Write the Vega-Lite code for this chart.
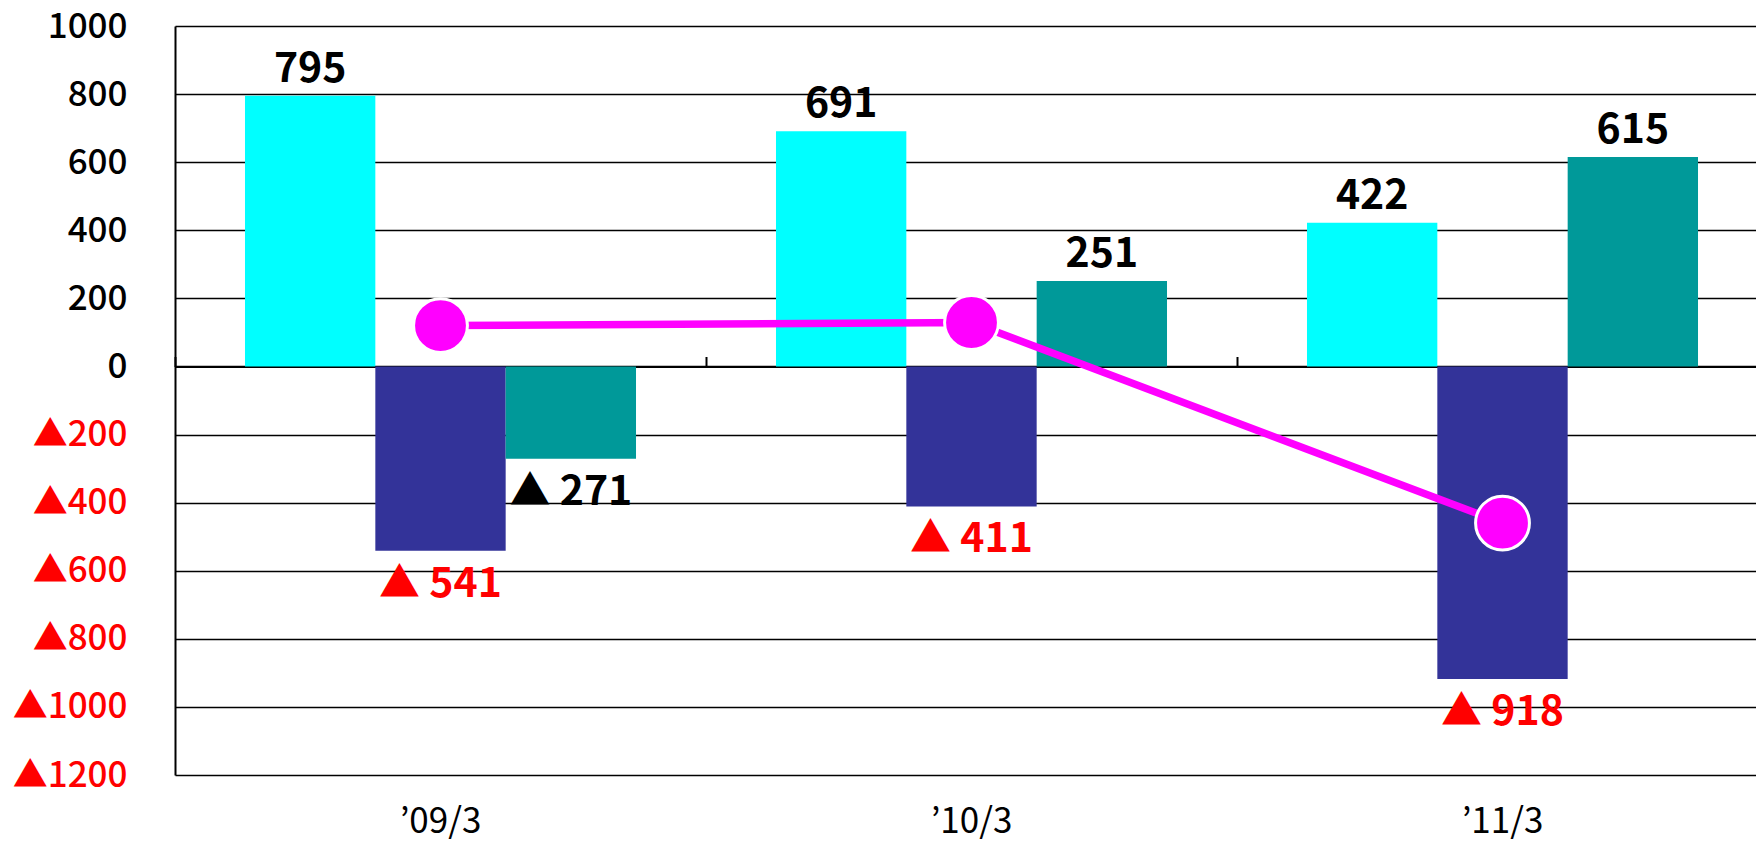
{
  "$schema": "https://vega.github.io/schema/vega-lite/v6.json",
  "width": 1581,
  "height": 749,
  "autosize": {"type": "none"},
  "padding": {"left": 175, "top": 26, "right": 0, "bottom": 67},
  "background": "white",
  "config": {"view": {"stroke": null}, "font": "Noto Sans CJK JP"},
  "data": {
    "values": [
      {"period": "’09/3", "series": "A", "value": 795, "label": "795"},
      {"period": "’09/3", "series": "B", "value": -541, "label": "▲ 541"},
      {"period": "’09/3", "series": "C", "value": -271, "label": "▲ 271"},
      {"period": "’10/3", "series": "A", "value": 691, "label": "691"},
      {"period": "’10/3", "series": "B", "value": -411, "label": "▲ 411"},
      {"period": "’10/3", "series": "C", "value": 251, "label": "251"},
      {"period": "’11/3", "series": "A", "value": 422, "label": "422"},
      {"period": "’11/3", "series": "B", "value": -918, "label": "▲ 918"},
      {"period": "’11/3", "series": "C", "value": 615, "label": "615"},
      {"period": "’09/3", "series": "L", "value": 120, "label": ""},
      {"period": "’10/3", "series": "L", "value": 129, "label": ""},
      {"period": "’11/3", "series": "L", "value": -460, "label": ""}
    ]
  },
  "encoding": {
    "y": {
      "field": "value",
      "type": "quantitative",
      "scale": {"domain": [-1200, 1000], "nice": false, "zero": false},
      "axis": {
        "title": null,
        "values": [-1200, -1000, -800, -600, -400, -200, 0, 200, 400, 600, 800, 1000],
        "labelExpr": "datum.value < 0 ? '▲' + format(-datum.value, 'd') : format(datum.value, 'd')",
        "labelColor": {"condition": {"test": "datum.value < 0", "value": "#FF0000"}, "value": "black"},
        "labelFontSize": 35,
        "labelFont": "Noto Sans CJK JP",
        "labelFontWeight": 500,
        "labelPadding": 48,
        "ticks": false,
        "domain": true,
        "domainColor": "black",
        "domainWidth": 2,
        "grid": true,
        "gridColor": "black",
        "gridWidth": 1.6,
        "gridOpacity": 1,
        "labelOverlap": false,
        "labelBound": false
      }
    }
  },
  "resolve": {"axis": {"x": "independent"}},
  "layer": [
    {
      "transform": [{"filter": "datum.series !== 'L'"}],
      "mark": {"type": "bar"},
      "encoding": {
        "x": {
          "field": "period",
          "type": "nominal",
          "sort": null,
          "scale": {"range": [0, 1593], "paddingInner": 0, "paddingOuter": 0},
          "axis": {
            "orient": "bottom",
            "title": null,
            "labels": false,
            "offset": -408.5,
            "domain": true,
            "domainColor": "black",
            "domainWidth": 2,
            "ticks": true,
            "tickBand": "extent",
            "tickSize": -10,
            "tickWidth": 2,
            "tickColor": "black",
            "grid": false
          }
        },
        "xOffset": {
          "field": "series",
          "type": "nominal",
          "scale": {"domain": ["A", "B", "C"], "paddingInner": 0, "paddingOuter": 0.537}
        },
        "color": {
          "field": "series",
          "type": "nominal",
          "scale": {"domain": ["A", "B", "C"], "range": ["#00FFFF", "#333399", "#009999"]},
          "legend": null
        }
      }
    },
    {
      "transform": [{"filter": "datum.series !== 'L' && datum.value > 0"}],
      "mark": {"type": "text", "baseline": "alphabetic", "dy": -14, "fontSize": 41, "fontWeight": "bold", "font": "Noto Sans CJK JP", "color": "black"},
      "encoding": {
        "x": {
          "field": "period",
          "type": "nominal",
          "sort": null,
          "scale": {"range": [0, 1593], "paddingInner": 0, "paddingOuter": 0},
          "axis": {
            "orient": "bottom",
            "title": null,
            "labelFontSize": 35,
            "labelFont": "Noto Sans CJK JP",
            "labelColor": "black",
            "labelPadding": 29,
            "labelAngle": 0,
            "domain": false,
            "ticks": false,
            "grid": false
          }
        },
        "xOffset": {
          "field": "series",
          "type": "nominal",
          "scale": {"domain": ["A", "B", "C"], "paddingInner": 0, "paddingOuter": 0.537}
        },
        "text": {"field": "label"}
      }
    },
    {
      "transform": [{"filter": "datum.series !== 'L' && datum.value < 0"}],
      "mark": {"type": "text", "baseline": "top", "dy": 14, "fontSize": 41, "fontWeight": "bold", "font": "Noto Sans CJK JP"},
      "encoding": {
        "x": {
          "field": "period",
          "type": "nominal",
          "sort": null,
          "scale": {"range": [0, 1593], "paddingInner": 0, "paddingOuter": 0},
          "axis": null
        },
        "xOffset": {
          "field": "series",
          "type": "nominal",
          "scale": {"domain": ["A", "B", "C"], "paddingInner": 0, "paddingOuter": 0.537}
        },
        "text": {"field": "label"},
        "color": {
          "condition": {"test": "datum.series === 'B'", "value": "#FF0000"},
          "value": "black"
        }
      }
    },
    {
      "transform": [{"filter": "datum.series === 'L'"}],
      "mark": {"type": "line", "color": "#FF00FF", "strokeWidth": 7.5},
      "encoding": {
        "x": {
          "field": "period",
          "type": "nominal",
          "sort": null,
          "scale": {"range": [0, 1593], "paddingInner": 0, "paddingOuter": 0},
          "axis": null
        }
      }
    },
    {
      "transform": [{"filter": "datum.series === 'L'"}],
      "mark": {"type": "point", "shape": "circle", "filled": true, "fill": "#FF00FF", "stroke": "white", "strokeWidth": 3, "size": 2900, "opacity": 1},
      "encoding": {
        "x": {
          "field": "period",
          "type": "nominal",
          "sort": null,
          "scale": {"range": [0, 1593], "paddingInner": 0, "paddingOuter": 0},
          "axis": null
        }
      }
    }
  ]
}
